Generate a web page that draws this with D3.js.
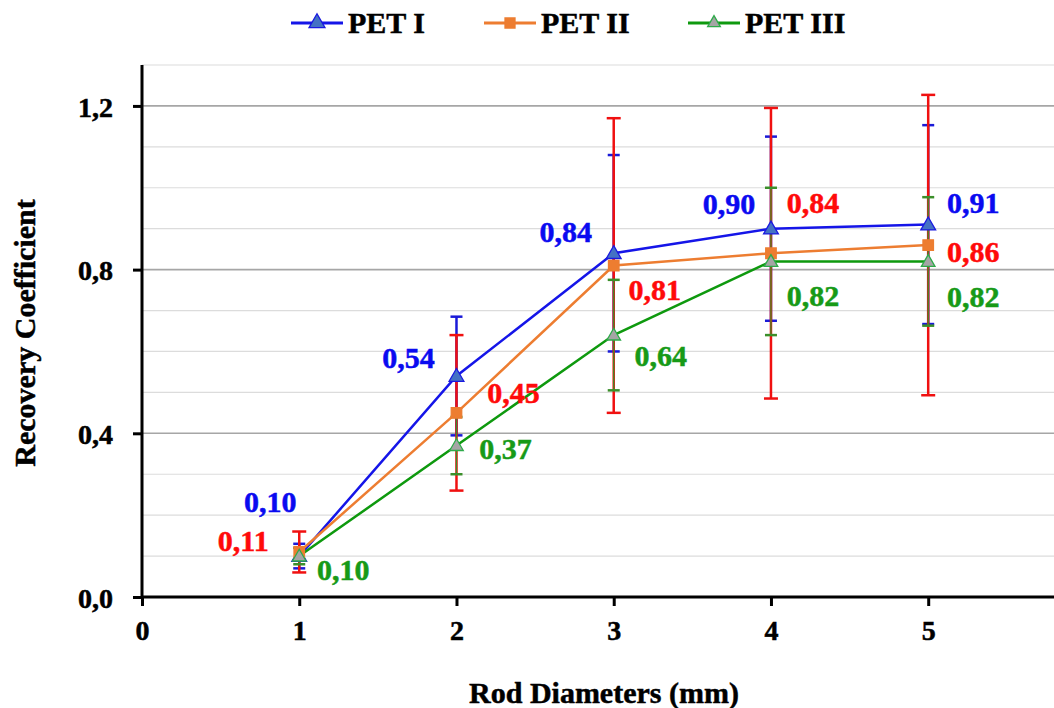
<!DOCTYPE html>
<html>
<head>
<meta charset="utf-8">
<title>Recovery Coefficient</title>
<script src="https://cdn.jsdelivr.net/npm/d3@7"></script>
<style>
  body { margin: 0; background: #fff; }
  svg { display: block; font-family: "Liberation Serif", "Times New Roman", serif; font-weight: bold; }
  text { stroke-width: 0.5px; }
</style>
</head>
<body>
<div id="chart"></div>
<script>
// data
const diameters = [1, 2, 3, 4, 5];
const xTicks = [0, 1, 2, 3, 4, 5];
const yTicks = [0, 0.4, 0.8, 1.2];
const seriesNames = ["PET I", "PET II", "PET III"];
const petI = [0.10, 0.54, 0.84, 0.90, 0.91];
const petIErr = [0.03, 0.145, 0.24, 0.225, 0.243];
const petII = [0.11, 0.45, 0.81, 0.84, 0.86];
const petIIErr = [0.05, 0.19, 0.36, 0.355, 0.367];
const petIII = [0.10, 0.37, 0.64, 0.82, 0.82];
const petIIIErr = [0.02, 0.07, 0.135, 0.18, 0.157];

// label placement (pixels from point)
const labelOffsets = [
  [[-29, -44], [-48, -8], [-48, -11], [-42, -15], [45, -12]],
  [[-56, -1], [57, -10], [41, 34], [42, -40], [45, 17]],
  [[44, 24], [49, 13], [47, 31], [42, 45], [45, 46]]
];

const width = 1054, height = 708;
const margin = {top: 65, right: 0, bottom: 111, left: 142};

const x = d3.scaleLinear().domain([0, 5.8]).range([margin.left, width - margin.right]);
const y = d3.scaleLinear().domain([0, 1.3]).range([height - margin.bottom, margin.top]);

const series = [
  {name: seriesNames[0], values: petI, err: petIErr, line: "#1515e8", fill: "#4472c4", stroke: "#1a1ae0",
   bar: "#1a1ad8", barW: 2.5, cap: 12, label: "#0a0af0", shape: d3.symbolTriangle, size: 95},
  {name: seriesNames[1], values: petII, err: petIIErr, line: "#ed7d31", fill: "#ed7d31", stroke: "#ed7d31",
   bar: "#f01010", barW: 2.5, cap: 14, label: "#ff0a0a", shape: d3.symbolSquare, size: 110},
  {name: seriesNames[2], values: petIII, err: petIIIErr, line: "#0e990e", fill: "#a5a5a5", stroke: "#2eaa4a",
   bar: "#3b8f2a", barW: 1.3, cap: 12, label: "#179a17", shape: d3.symbolTriangle, size: 80}
];

const svg = d3.select("#chart").append("svg")
  .attr("width", width)
  .attr("height", height);

// grid
svg.append("g")
  .selectAll("line")
  .data(d3.range(1, 14).map(i => i / 10))
  .join("line")
  .attr("x1", x(0)).attr("x2", width)
  .attr("y1", d => y(d)).attr("y2", d => y(d))
  .attr("stroke", (d, i) => (i + 1) % 4 === 0 ? "#a6a6a6" : "#dcdcdc")
  .attr("stroke-width", (d, i) => (i + 1) % 4 === 0 ? 1.6 : 1.2);

// axes
const fmt = d => d3.format(".1f")(d).replace(".", ",");

const yAxis = svg.append("g")
  .attr("transform", `translate(${x(0)},0)`)
  .call(d3.axisLeft(y).tickValues(yTicks).tickFormat(fmt).tickSize(9).tickPadding(20));
const xAxis = svg.append("g")
  .attr("transform", `translate(0,${y(0)})`)
  .call(d3.axisBottom(x).tickValues(xTicks).tickFormat(d3.format("d")).tickSize(9).tickPadding(14));

[yAxis, xAxis].forEach(a => {
  a.select(".domain").attr("stroke", "#000").attr("stroke-width", 3);
  a.selectAll(".tick line").attr("stroke", "#000").attr("stroke-width", 3);
  a.selectAll(".tick text").attr("fill", "#000").attr("stroke", "#000")
    .style("font-family", "Liberation Serif").style("font-weight", "bold").style("font-size", "28px");
});
yAxis.selectAll(".tick text").attr("dy", "0.36em");
yAxis.select(".domain").attr("d", `M0,${y(1.3)}V${y(0)}`);
xAxis.select(".domain").attr("d", `M${x(0)},0H${width}`);

svg.append("text")
  .attr("x", 604).attr("y", 703)
  .attr("text-anchor", "middle")
  .attr("stroke", "#000")
  .style("font-size", "30px")
  .text("Rod Diameters (mm)");

svg.append("text")
  .attr("transform", `translate(35,${333}) rotate(-90)`)
  .attr("text-anchor", "middle")
  .attr("stroke", "#000")
  .style("font-size", "30px")
  .text("Recovery Coefficient");

// error bars
series.forEach(s => {
  const g = svg.append("g").attr("stroke", s.bar).attr("stroke-width", s.barW);
  diameters.forEach((dx, i) => {
    const v = s.values[i], e = s.err[i];
    g.append("line").attr("x1", x(dx)).attr("x2", x(dx)).attr("y1", y(v + e)).attr("y2", y(v - e));
    [v + e, v - e].forEach(c => {
      g.append("line")
        .attr("x1", x(dx) - s.cap / 2).attr("x2", x(dx) + s.cap / 2)
        .attr("y1", y(c)).attr("y2", y(c))
        .attr("stroke-width", 2.5);
    });
  });
});

// lines and markers
const line = d3.line().x((d, i) => x(diameters[i])).y(d => y(d));
series.forEach(s => {
  svg.append("path")
    .attr("d", line(s.values))
    .attr("fill", "none")
    .attr("stroke", s.line)
    .attr("stroke-width", 2.5);
});
series.forEach(s => {
  svg.append("g")
    .selectAll("path")
    .data(s.values)
    .join("path")
    .attr("transform", (d, i) => `translate(${x(diameters[i])},${y(d) + (s.shape === d3.symbolTriangle ? 1 : 0)})`)
    .attr("d", d3.symbol().type(s.shape).size(s.size))
    .attr("fill", s.fill)
    .attr("stroke", s.stroke)
    .attr("stroke-width", 1.3);
});

// value labels
const vfmt = d => d3.format(".2f")(d).replace(".", ",");
series.forEach((s, si) => {
  svg.append("g")
    .selectAll("text")
    .data(s.values)
    .join("text")
    .attr("x", (d, i) => x(diameters[i]) + labelOffsets[si][i][0])
    .attr("y", (d, i) => y(d) + labelOffsets[si][i][1])
    .attr("text-anchor", "middle")
    .attr("fill", s.label)
    .attr("stroke", s.label)
    .style("font-size", "30px")
    .text(d => vfmt(d));
});

// legend
const legendX = [291, 484, 688];
const legend = svg.append("g");
series.forEach((s, i) => {
  const lg = legend.append("g").attr("transform", `translate(${legendX[i]},23)`);
  lg.append("line").attr("x1", 0).attr("x2", 52).attr("stroke", s.line).attr("stroke-width", 3);
  lg.append("path")
    .attr("transform", "translate(26,0)")
    .attr("d", d3.symbol().type(s.shape).size(s.shape === d3.symbolSquare ? 100 : (i === 0 ? 110 : 70)))
    .attr("fill", s.fill)
    .attr("stroke", s.stroke)
    .attr("stroke-width", 1.3);
  lg.append("text")
    .attr("x", 57).attr("y", 10)
    .style("font-size", "30px")
    .attr("fill", "#000")
    .attr("stroke", "#000")
    .text(s.name);
});
</script>
</body>
</html>
